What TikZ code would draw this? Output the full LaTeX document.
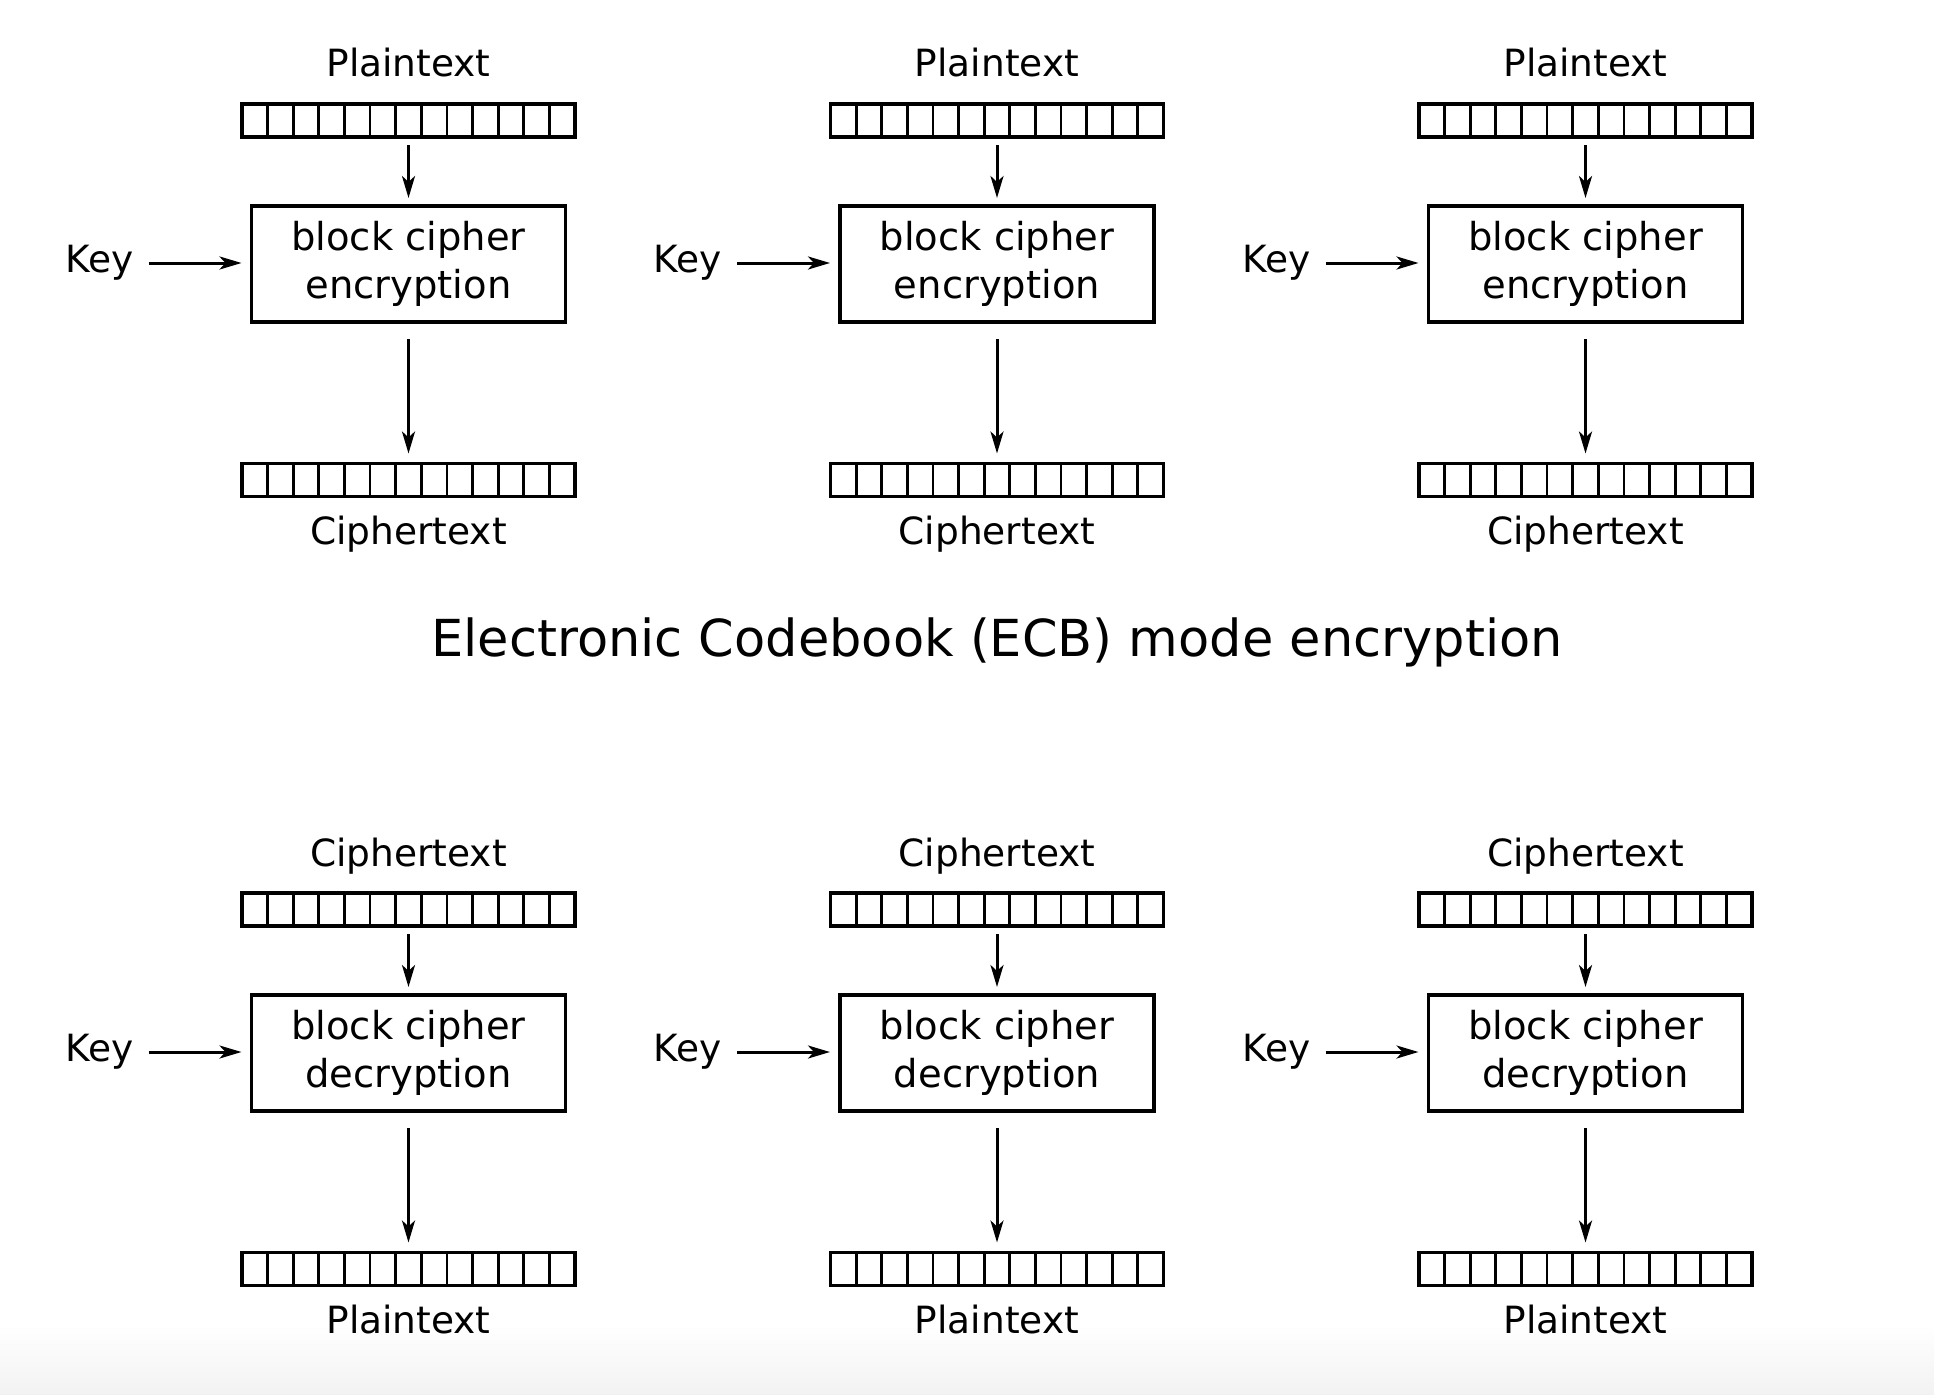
\documentclass[tikz,border=0pt]{standalone}
\usepackage{fontspec}
\setmainfont{DejaVu Sans}
\usetikzlibrary{arrows.meta,calc,positioning}
\tikzset{
  lbl/.style={font=\fontsize{37.5}{45}\selectfont, inner sep=0pt},
  cellbar/.style={draw, line width=3.2pt, minimum width=333pt, minimum height=33pt, inner sep=0pt, outer sep=0pt},
  cipherbox/.style={draw, line width=3.2pt, minimum width=314pt, minimum height=116pt, inner sep=0pt, outer sep=0pt, align=center, font=\fontsize{38.5}{48}\selectfont},
  flow/.style={line width=3pt, -{Stealth[length=22pt,width=13pt,inset=6pt]}},
}
\begin{document}
\begin{tikzpicture}[x=1pt,y=-1pt]
    \useasboundingbox (0,0) rectangle (1934,1394);
    \shade[top color=white, bottom color=black!5, draw=none] (0,1325) rectangle (1934,1394);

    \foreach \r/\dy/\intxt/\outtxt/\op in {e/0/Plaintext/Ciphertext/encryption, d/789/Ciphertext/Plaintext/decryption}{
      \foreach \c/\cx in {1/408.5, 2/997, 3/1585.5}{
        \node[lbl, anchor=base] (in-\r-\c) at (\cx,\dy+77) {\intxt};
        \node[cellbar] (inbar-\r-\c) at (\cx,\dy+120.5) {};
        \node[cipherbox] (box-\r-\c) at (\cx,\dy+264) {block cipher\\\op};
        \node[cellbar] (outbar-\r-\c) at (\cx,\dy+480) {};
        \node[lbl, anchor=base] (out-\r-\c) at (\cx,\dy+544) {\outtxt};
        \node[lbl, anchor=east] (key-\r-\c) at (\cx-275,\dy+263) {Key};
        \foreach \k in {1,...,12}{
          \draw[line width=2.8pt] ($(inbar-\r-\c.north west)!\k/13!(inbar-\r-\c.north east)$) -- ($(inbar-\r-\c.south west)!\k/13!(inbar-\r-\c.south east)$);
          \draw[line width=2.8pt] ($(outbar-\r-\c.north west)!\k/13!(outbar-\r-\c.north east)$) -- ($(outbar-\r-\c.south west)!\k/13!(outbar-\r-\c.south east)$);
        }
        \draw[flow, shorten <=8pt, shorten >=8pt] (inbar-\r-\c) -- (box-\r-\c);
        \draw[flow, shorten <=17pt, shorten >=10pt] (box-\r-\c) -- (outbar-\r-\c);
        \draw[flow, shorten <=15pt, shorten >=10pt] (key-\r-\c.east) -- (key-\r-\c.east -| box-\r-\c.west);
      }
    }

    \node[font=\fontsize{51}{60}\selectfont] (title) at (997,642) {Electronic Codebook (ECB) mode encryption};
\end{tikzpicture}
\end{document}
